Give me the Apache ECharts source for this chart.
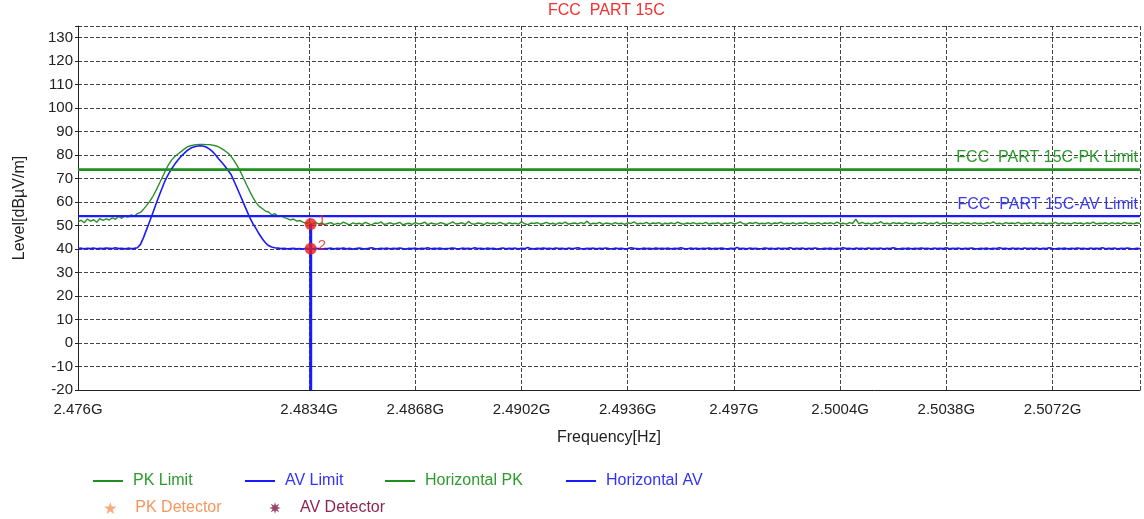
<!DOCTYPE html>
<html>
<head>
<meta charset="utf-8">
<script src="https://cdn.jsdelivr.net/npm/echarts@6/dist/echarts.min.js"></script>
<style>html,body{margin:0;padding:0;background:#fff}#c{width:1144px;height:519px}</style>
</head>
<body>
<div id="c"></div>
<script>
// ---- data ----
const titleText = 'FCC  PART 15C';
const xTickLabels = [2.476, 2.4834, 2.4868, 2.4902, 2.4936, 2.497, 2.5004, 2.5038, 2.5072];
const xGridValues = [2.476, 2.4834, 2.4868, 2.4902, 2.4936, 2.497, 2.5004, 2.5038, 2.5072, 2.51];
const sweepStartGHz = 2.476;
const sweepStepGHz = 0.0001;
const pkLimit = 74;
const avLimit = 54;
const pkLimitLabel = 'FCC  PART 15C-PK Limit';
const avLimitLabel = 'FCC  PART 15C-AV Limit';
const markerFreq = 2.48345;
const markerPK = 50.7;
const markerAV = 40.1;

const horizontalPK = [
51.6,52.3,51.2,52.8,51.9,52.5,51.4,53.0,52.2,52.9,
52.4,53.3,52.7,54.0,53.1,54.2,53.6,54.6,54.0,55.1,
55.6,57.0,58.6,60.4,62.5,65.0,67.8,70.6,73.4,76.0,
78.0,79.4,80.5,81.5,82.6,83.5,84.0,84.3,84.5,84.6,
84.6,84.5,84.5,84.3,84.0,83.5,82.8,81.9,80.9,79.5,
77.6,75.4,73.0,70.2,67.3,64.6,62.0,59.8,58.2,57.3,
56.2,55.8,54.6,55.1,53.9,54.2,53.4,53.0,52.4,52.8,
51.9,52.2,51.5,51.0,51.3,50.6,51.4,50.7,51.1,50.5,
50.9,51.3,50.4,51.0,50.6,51.5,50.8,50.3,51.2,50.7,
51.0,50.5,51.4,50.8,50.2,51.1,50.9,51.6,50.5,50.8,
51.2,50.6,50.9,51.4,50.3,50.8,51.0,50.5,51.3,50.7,
50.9,51.5,50.4,51.1,50.8,50.6,51.3,50.9,50.4,51.0,
51.6,50.7,50.9,51.2,50.5,51.8,50.8,50.6,51.1,50.9,
50.4,51.3,50.8,51.0,50.6,51.4,50.9,50.5,51.2,50.8,
51.0,50.6,51.7,50.8,50.4,51.1,50.9,51.3,50.6,50.9,
51.4,50.7,51.0,50.5,51.2,50.8,51.5,50.6,50.9,51.1,
50.7,51.3,50.8,51.9,50.6,51.0,50.8,51.4,50.5,51.1,
50.9,50.6,51.3,50.8,51.0,50.5,51.2,50.9,51.6,50.7,
51.0,50.8,51.4,50.6,51.1,50.9,51.3,50.5,51.0,50.8,
51.2,50.7,51.5,50.9,50.6,51.1,50.8,51.3,50.7,51.0,
50.8,51.4,50.6,51.0,50.9,51.2,50.5,51.1,50.8,51.3,
50.7,51.0,51.6,50.8,50.6,51.2,50.9,51.4,50.7,51.0,
50.8,51.3,50.6,51.1,50.9,51.5,50.7,51.0,50.8,51.2,
50.6,51.1,50.9,51.4,50.7,51.0,50.8,51.3,50.6,51.1,
50.9,51.2,50.7,51.5,50.8,51.0,50.6,51.3,50.9,52.8,
50.7,51.4,50.8,51.0,50.6,51.2,50.9,51.7,50.8,51.0,
50.6,51.3,50.9,51.1,50.7,51.4,50.8,51.0,50.6,51.2,
50.9,51.3,50.7,51.0,50.8,51.5,50.6,51.1,50.9,51.2,
50.8,51.0,50.7,51.4,50.9,51.1,50.6,51.3,50.8,51.0,
50.7,51.2,50.9,51.6,50.8,51.0,50.6,51.3,50.9,51.1,
50.8,51.4,50.7,51.0,50.9,51.2,50.6,51.3,50.8,51.1,
50.7,51.0,50.9,51.4,50.6,51.2,50.8,51.0,50.7,51.3,
50.9,51.1,50.6,51.2,50.8,51.5,50.7,51.0,50.9,51.2,
50.6,51.3,50.8,51.1,50.7,51.4,50.9,51.0,50.8,51.2,
50.9
];

const horizontalAV = [
40.2,40.4,40.1,40.3,40.2,40.5,40.1,40.3,40.2,40.4,
40.3,40.2,40.6,40.2,40.3,40.1,40.4,40.2,40.3,40.6,
42.0,45.0,48.5,52.0,55.6,59.3,62.8,66.2,69.5,72.0,
74.2,76.2,77.9,79.5,80.8,82.0,82.9,83.5,83.8,84.0,
83.9,83.5,82.7,81.6,80.2,78.5,77.0,75.4,73.6,71.8,
68.8,65.8,62.7,59.6,56.5,53.4,50.8,48.7,46.4,44.4,
42.7,41.5,40.9,40.6,40.4,40.2,40.3,40.1,40.2,40.3,
40.1,40.2,40.0,40.3,40.2,40.1,40.3,40.2,40.0,40.2,
40.2,40.4,40.1,40.3,40.2,40.5,40.1,40.3,40.0,40.2,
40.4,40.2,40.1,40.3,40.6,40.2,40.1,40.3,40.2,40.4,
40.1,40.3,40.2,40.5,40.2,40.0,40.3,40.2,40.4,40.1,
40.3,40.2,40.6,40.1,40.3,40.2,40.4,40.1,40.2,40.3,
40.5,40.2,40.1,40.4,40.2,40.3,40.1,40.6,40.2,40.3,
40.1,40.4,40.2,40.3,40.0,40.2,40.5,40.1,40.3,40.2,
40.4,40.1,40.3,40.2,40.7,40.2,40.1,40.3,40.2,40.4,
40.2,40.3,40.1,40.5,40.2,40.3,40.1,40.4,40.2,40.3,
40.6,40.2,40.1,40.3,40.2,40.4,40.1,40.3,40.2,40.5,
40.2,40.1,40.4,40.2,40.3,40.1,40.2,40.6,40.3,40.2,
40.1,40.4,40.2,40.3,40.1,40.5,40.2,40.3,40.2,40.4,
40.1,40.3,40.2,40.6,40.2,40.1,40.4,40.2,40.3,40.1,
40.3,40.2,40.5,40.1,40.3,40.2,40.4,40.2,40.1,40.3,
40.2,40.7,40.2,40.3,40.1,40.4,40.2,40.3,40.1,40.2,
40.5,40.2,40.3,40.1,40.4,40.2,40.3,40.2,40.6,40.1,
40.3,40.2,40.4,40.1,40.3,40.2,40.5,40.2,40.1,40.3,
40.2,40.4,40.1,40.3,40.2,40.6,40.2,40.3,40.1,40.4,
40.2,40.3,40.1,40.5,40.2,40.3,40.2,40.4,40.1,40.3,
40.2,40.6,40.2,40.1,40.3,40.2,40.4,40.1,40.3,40.2,
40.5,40.2,40.3,40.1,40.4,40.2,40.3,40.2,40.6,40.1,
40.3,40.2,40.4,40.1,40.3,40.2,40.5,40.2,40.1,40.3,
40.2,40.4,40.1,40.3,40.2,40.6,40.2,40.3,40.1,40.4,
40.2,40.3,40.1,40.5,40.2,40.3,40.2,40.4,40.1,40.3,
40.2,40.6,40.2,40.1,40.3,40.2,40.4,40.1,40.3,40.2,
40.5,40.2,40.3,40.1,40.4,40.2,40.3,40.2,40.6,40.1,
40.3,40.2,40.4,40.1,40.3,40.2,40.5,40.2,40.1,40.3,
40.2
];

// ---- chart ----
const FONT = '"Liberation Sans", Arial, sans-serif';
const GREEN = '#1f8f1f';
const BLUE = '#1a1aff';
const toPairs = arr => arr.map((v, i) => [+(sweepStartGHz + i * sweepStepGHz).toFixed(5), v]);
const xMin = 2.476, xMax = 2.51;

const starPath = 'path://M50,0 L61,35 L98,35 L68,57 L79,91 L50,70 L21,91 L32,57 L2,35 L39,35 Z';
const burstPath = 'path://M50,0 L58,30 L85,15 L70,42 L100,50 L70,58 L85,85 L58,70 L50,100 L42,70 L15,85 L30,58 L0,50 L30,42 L15,15 L42,30 Z';

function lineLegend(name, left, textColor, iconColor) {
  return {
    data: [{ name: name, icon: 'rect', itemStyle: { color: iconColor }, textStyle: { color: textColor } }],
    left: left, top: 473, padding: 0,
    itemWidth: 30, itemHeight: 2,
    textStyle: { fontFamily: FONT, fontSize: 16, padding: [0, 0, 0, 5] },
    selectedMode: false
  };
}
function symbolLegend(name, left, textColor) {
  return {
    data: [{ name: name, textStyle: { color: textColor } }],
    left: left, top: 500, padding: 0,
    itemWidth: 30, itemHeight: 12,
    textStyle: { fontFamily: FONT, fontSize: 16, padding: [0, 0, 0, 5] },
    selectedMode: false
  };
}

const chart = echarts.init(document.getElementById('c'), null, { renderer: 'canvas' });
chart.setOption({
  animation: false,
  backgroundColor: '#fff',
  title: {
    text: titleText, left: 548, top: 3, padding: 0,
    textStyle: { color: '#f2302f', fontSize: 16, fontWeight: 'normal', fontFamily: FONT }
  },
  legend: [
    lineLegend('PK Limit', 93, '#2e9a2e', GREEN),
    lineLegend('AV Limit', 245, '#3333f5', BLUE),
    lineLegend('Horizontal PK', 385, '#2e9a2e', GREEN),
    lineLegend('Horizontal AV', 566, '#3333f5', BLUE),
    symbolLegend('PK Detector', 104, '#f7965c'),
    symbolLegend('AV Detector', 269, '#8e2450')
  ],
  grid: { left: 78, right: 4, top: 26, bottom: 129, containLabel: false },
  xAxis: {
    type: 'value', min: xMin, max: xMax,
    name: 'Frequency[Hz]', nameLocation: 'middle', nameGap: 40,
    nameTextStyle: { fontFamily: FONT, fontSize: 16, color: '#222' },
    axisLine: { onZero: false, lineStyle: { color: '#222', width: 1 } },
    axisTick: { show: false, customValues: xGridValues },
    axisLabel: {
      customValues: xTickLabels, margin: 12,
      fontFamily: FONT, fontSize: 15, color: '#222',
      formatter: v => Number(v.toFixed(4)) + 'G'
    },
    splitLine: { show: true, lineStyle: { color: '#444', type: [4, 2], width: 1 } }
  },
  yAxis: {
    type: 'value', min: -20, max: 135, interval: 10,
    name: 'Level[dBµV/m]', nameLocation: 'middle', nameGap: 50,
    nameTextStyle: { fontFamily: FONT, fontSize: 16, color: '#222' },
    axisLine: { show: true, onZero: false, lineStyle: { color: '#222', width: 1 } },
    axisTick: { show: true, length: 3, lineStyle: { color: '#222' } },
    axisLabel: {
      fontFamily: FONT, fontSize: 15, color: '#222', margin: 5,
      formatter: v => (v > 130 ? '' : String(v))
    },
    splitLine: { show: true, lineStyle: { color: '#444', type: [4, 2], width: 1 } }
  },
  series: [
    {
      name: 'PK Limit', type: 'line', symbol: 'none', silent: true,
      data: [[xMin, pkLimit], [xMax, pkLimit]],
      lineStyle: { color: GREEN, width: 2 }, itemStyle: { color: GREEN },
      markLine: {
        silent: true, symbol: 'none',
        lineStyle: { color: GREEN, width: 2, type: 'solid' },
        label: {
          position: 'insideEndTop', formatter: pkLimitLabel, distance: [2, 4],
          color: '#2c9a2c', fontFamily: FONT, fontSize: 16
        },
        data: [{ yAxis: pkLimit }]
      },
      z: 3
    },
    {
      name: 'AV Limit', type: 'line', symbol: 'none', silent: true,
      data: [[xMin, avLimit], [xMax, avLimit]],
      lineStyle: { color: BLUE, width: 2 }, itemStyle: { color: BLUE },
      markLine: {
        silent: true, symbol: 'none',
        lineStyle: { color: BLUE, width: 2, type: 'solid' },
        label: {
          position: 'insideEndTop', formatter: avLimitLabel, distance: [2, 4],
          color: '#3a3aff', fontFamily: FONT, fontSize: 16
        },
        data: [{ yAxis: avLimit }]
      },
      z: 3
    },
    {
      name: 'Horizontal PK', type: 'line', symbol: 'none', silent: true,
      data: toPairs(horizontalPK),
      lineStyle: { color: '#2a8f2a', width: 1.4 }, itemStyle: { color: '#2a8f2a' },
      z: 4
    },
    {
      name: 'Horizontal AV', type: 'line', symbol: 'none', silent: true,
      data: toPairs(horizontalAV),
      lineStyle: { color: BLUE, width: 1.6 }, itemStyle: { color: BLUE },
      z: 4
    },
    {
      name: 'PK Detector', type: 'scatter', symbol: starPath,
      itemStyle: { color: '#f7965c' }, data: []
    },
    {
      name: 'AV Detector', type: 'scatter', symbol: burstPath,
      itemStyle: { color: '#7e1848' }, data: []
    },
    {
      name: 'markerLine', type: 'line', symbol: 'none', silent: true,
      data: [[markerFreq, markerPK], [markerFreq, -20]],
      lineStyle: { color: BLUE, width: 3 }, z: 5
    },
    {
      name: 'markers', type: 'scatter', symbol: 'circle', symbolSize: 12, silent: true,
      itemStyle: { color: '#e81e1e' },
      label: {
        show: true, position: 'right', distance: 1, offset: [0, -3],
        color: '#e81e1e', fontFamily: FONT, fontSize: 15,
        formatter: p => String(p.dataIndex + 1)
      },
      data: [[markerFreq, markerPK], [markerFreq, markerAV]],
      z: 6
    }
  ]
});
</script>
</body>
</html>
